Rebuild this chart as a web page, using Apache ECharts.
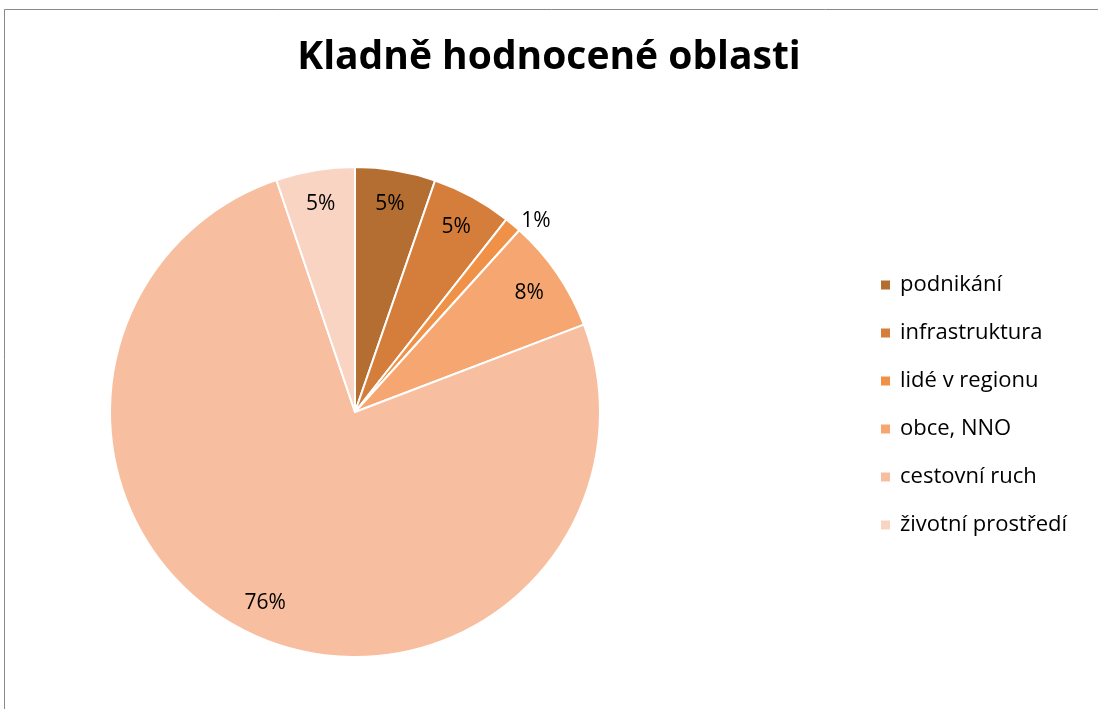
<!DOCTYPE html>
<html>
<head>
<meta charset="utf-8">
<script src="https://cdn.jsdelivr.net/npm/echarts@6/dist/echarts.min.js"></script>
<style>
    html, body { margin: 0; padding: 0; background: #fff; }
    #chart { width: 1098px; height: 709px; }
</style>
</head>
<body>
<div id="chart"></div>
<script>
    // oblasti a podíly (v %)
    const categories = ['podnikání', 'infrastruktura', 'lidé v regionu', 'obce, NNO', 'cestovní ruch', 'životní prostředí'];
    const values = [5.3, 5.3, 1.1, 7.5, 75.6, 5.2];
    const colors = ['#B56E32', '#D57E3B', '#EF9247', '#F6A671', '#F8BEA0', '#FAD4C3'];

    const font = '"Open Sans", "Noto Sans", sans-serif';

    const pieData = categories.map((name, i) => ({ name: name, value: values[i] }));

    // popisky - 1% je mimo výseč
    const labelData = categories.map((name, i) => {
        const item = { name: name, value: values[i] };
        if (values[i] < 2) {
            item.label = { position: 'outside', color: '#000' };
            item.labelLine = { show: false, length: 4, length2: 0 };
        }
        return item;
    });

    const chart = echarts.init(document.getElementById('chart'));
    chart.setOption({
        color: colors,
        animation: false,
        title: {
            text: 'Kladně hodnocené oblasti',
            left: 'center',
            top: 33,
            textStyle: { fontFamily: font, fontSize: 39, fontWeight: 'bold', color: '#000' }
        },
        legend: {
            orient: 'vertical',
            left: 874,
            top: 269,
            icon: 'rect',
            itemWidth: 11,
            itemHeight: 11,
            itemGap: 26,
            data: categories,
            textStyle: { fontFamily: font, fontSize: 22, color: '#000', padding: [0, 0, 0, 4] }
        },
        graphic: [{
            type: 'rect',
            shape: { x: 4.5, y: 9.5, width: 1200, height: 800 },
            style: { fill: 'none', stroke: '#898989', lineWidth: 1 },
            silent: true
        }],
        series: [{
            name: 'oblasti',
            type: 'pie',
            center: [355, 412],
            radius: [0, 245],
            startAngle: 90,
            clockwise: true,
            itemStyle: { borderColor: '#fff', borderWidth: 2 },
            label: { show: false },
            labelLine: { show: false },
            data: pieData
        }, {
            // průhledný prstenec jen pro umístění popisků
            name: 'popisky',
            type: 'pie',
            center: [355, 412],
            radius: [170, 246],
            startAngle: 90,
            clockwise: true,
            silent: true,
            legendHoverLink: false,
            itemStyle: { color: 'rgba(0,0,0,0)', borderWidth: 0 },
            label: {
                show: true,
                position: 'inside',
                formatter: p => Math.round(p.percent) + '%',
                fontFamily: font,
                fontSize: 21,
                color: '#000'
            },
            labelLine: { show: false },
            data: labelData
        }]
    });
</script>
</body>
</html>
